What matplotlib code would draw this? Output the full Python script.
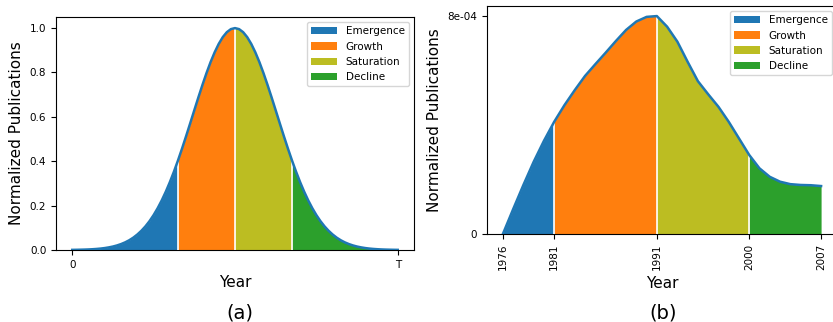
import matplotlib.pyplot as plt

# stage names and colours
stages = ["Emergence", "Growth", "Saturation", "Decline"]
colors = ["#1f77b4", "#ff7f0e", "#bcbd22", "#2ca02c"]

# (a) idealised life cycle, x in steps of T/80
ideal_x = list(range(81))
ideal_y = [0.0006, 0.0009, 0.0013, 0.0018, 0.0025, 0.0035, 0.0048, 0.0065,
           0.0088, 0.0118, 0.0156, 0.0205, 0.0267, 0.0344, 0.0439, 0.0556,
           0.0698, 0.0867, 0.1067, 0.1302, 0.1574, 0.1885, 0.2236, 0.2629,
           0.3062, 0.3534, 0.4041, 0.4578, 0.5139, 0.5716, 0.6298, 0.6877,
           0.7439, 0.7973, 0.8467, 0.8908, 0.9287, 0.9593, 0.9817, 0.9954,
           1.0,
           0.9954, 0.9817, 0.9593, 0.9287, 0.8908, 0.8467, 0.7973, 0.7439,
           0.6877, 0.6298, 0.5716, 0.5139, 0.4578, 0.4041, 0.3534, 0.3062,
           0.2629, 0.2236, 0.1885, 0.1574, 0.1302, 0.1067, 0.0867, 0.0698,
           0.0556, 0.0439, 0.0344, 0.0267, 0.0205, 0.0156, 0.0118, 0.0088,
           0.0065, 0.0048, 0.0035, 0.0025, 0.0018, 0.0013, 0.0009, 0.0006]
ideal_bounds = [0, 26, 40, 54, 80]

# (b) observed curve
years = list(range(1976, 2008))
pubs = [0.0, 0.91e-4, 1.80e-4, 2.65e-4, 3.42e-4, 4.12e-4, 4.73e-4, 5.28e-4,
        5.80e-4, 6.23e-4, 6.65e-4, 7.08e-4, 7.49e-4, 7.80e-4, 7.97e-4, 8.00e-4,
        7.61e-4, 7.06e-4, 6.32e-4, 5.61e-4, 5.13e-4, 4.67e-4, 4.12e-4, 3.51e-4,
        2.90e-4, 2.41e-4, 2.10e-4, 1.92e-4, 1.83e-4, 1.80e-4, 1.79e-4, 1.76e-4]
year_bounds = [1976, 1981, 1991, 2000, 2007]


def draw_stages(ax, x, y, bounds):
  for i in range(4):
    a = x.index(bounds[i])
    b = x.index(bounds[i + 1])
    ax.fill_between(x[a:b + 1], y[a:b + 1], color=colors[i], label=stages[i], lw=0)
  for bd in bounds[1:-1]:
    ax.vlines(bd, 0, y[x.index(bd)], color="white", lw=1.2, zorder=3)
  ax.plot(x, y, color="#1f77b4", lw=1.8, zorder=4)
  ax.legend(loc="upper right", fontsize=7.5, handlelength=2.5)
  ax.set_xlabel("Year", fontsize=11)
  ax.set_ylabel("Normalized Publications", fontsize=11)
  ax.tick_params(labelsize=7.5)


fig = plt.figure(figsize=(8.33, 3.22), dpi=100)

ax1 = fig.add_axes([0.0672, 0.2236, 0.4298, 0.7236])
draw_stages(ax1, ideal_x, ideal_y, ideal_bounds)
ax1.set_ylim(0, 1.05)
ax1.set_xticks([0, 80])
ax1.set_xticklabels(["0", "T"])

ax2 = fig.add_axes([0.5846, 0.2733, 0.4202, 0.7081])
draw_stages(ax2, years, pubs, year_bounds)
ax2.set_ylim(0, 8.37e-4)
ax2.set_yticks([0, 8e-4])
ax2.set_yticklabels(["0", "8e-04"])
ax2.set_xticks(year_bounds)
ax2.set_xticklabels([str(yr) for yr in year_bounds], rotation=90)

fig.text(0.288, 0.01, "(a)", fontsize=14, ha="center")
fig.text(0.796, 0.01, "(b)", fontsize=14, ha="center")

plt.savefig("out.png", dpi=100)
